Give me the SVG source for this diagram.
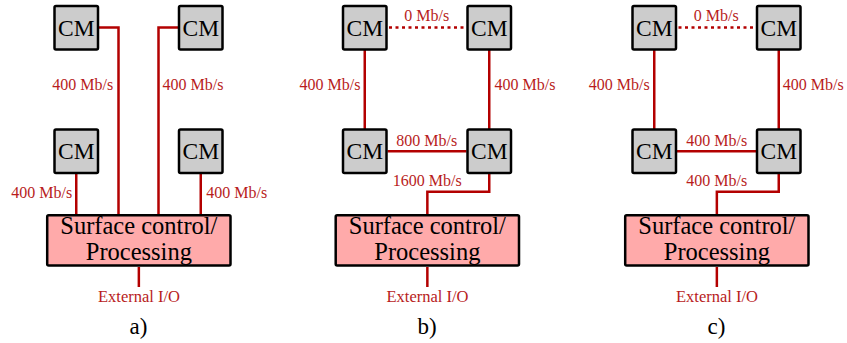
<svg xmlns="http://www.w3.org/2000/svg" width="847" height="343" viewBox="0 0 847 343">
<style>
.cm rect{fill:#cccccc;stroke:#000;stroke-width:2.5}
.sc rect{fill:#ffaaaa;stroke:#000;stroke-width:2.5}
.cm text,.sc text,.cap{fill:#000;text-anchor:middle}
.cm text{font-size:23.5px}
.sc text{font-size:24.5px}
.cap{font-size:23px}
.conn path{fill:none;stroke:#b30000;stroke-width:2.5}
.conn path.dot{stroke-dasharray:3 3.5}
.lbl{font-size:16px;fill:#b81c1c;text-anchor:middle}
.ext{font-size:16.5px}
</style>
<g id="panel-a" font-family="Liberation Serif, DejaVu Serif, serif">
  <g class="conn" id="connectors-a">
    <path d="M99,27.5 H118.5 V214"/>
    <path d="M178,27.5 H158.5 V214"/>
    <path d="M76.25,174 V214"/>
    <path d="M200.75,174 V214"/>
    <path d="M138.85,267 V287"/>
  </g>
  <g id="a-cm1" class="cm"><rect x="54.5" y="6" width="43.5" height="43.5" rx="1.5"/><text font-family="Liberation Serif, DejaVu Serif, serif" x="76.25" y="35.8">CM</text></g>
  <g id="a-cm2" class="cm"><rect x="179" y="6" width="43.5" height="43.5" rx="1.5"/><text font-family="Liberation Serif, DejaVu Serif, serif" x="200.75" y="35.8">CM</text></g>
  <g id="a-cm3" class="cm"><rect x="54.5" y="129.5" width="43.5" height="43.5" rx="1.5"/><text font-family="Liberation Serif, DejaVu Serif, serif" x="76.25" y="159.3">CM</text></g>
  <g id="a-cm4" class="cm"><rect x="179" y="129.5" width="43.5" height="43.5" rx="1.5"/><text font-family="Liberation Serif, DejaVu Serif, serif" x="200.75" y="159.3">CM</text></g>
  <g id="a-surface" class="sc"><rect x="47.2" y="215.2" width="183.3" height="50.3" rx="1.5"/><text font-family="Liberation Serif, DejaVu Serif, serif" x="138.85" y="233.8">Surface control/</text><text font-family="Liberation Serif, DejaVu Serif, serif" x="138.85" y="259.5">Processing</text></g>
  <g id="a-labels" font-family="Liberation Serif, DejaVu Serif, serif">
    <text font-family="Liberation Serif, DejaVu Serif, serif" class="lbl" x="82.7" y="90">400 Mb/s</text>
    <text font-family="Liberation Serif, DejaVu Serif, serif" class="lbl" x="193" y="90">400 Mb/s</text>
    <text font-family="Liberation Serif, DejaVu Serif, serif" class="lbl" x="41.7" y="197.5">400 Mb/s</text>
    <text font-family="Liberation Serif, DejaVu Serif, serif" class="lbl" x="236.7" y="197.5">400 Mb/s</text>
    <text font-family="Liberation Serif, DejaVu Serif, serif" class="lbl ext" x="139" y="301.5">External I/O</text>
    <text font-family="Liberation Serif, DejaVu Serif, serif" class="cap" x="138.5" y="334">a)</text>
  </g>
</g>
<g id="panel-b" transform="translate(288.5,0)" font-family="Liberation Serif, DejaVu Serif, serif">
  <g class="conn" id="connectors-b">
    <path class="dot" d="M100.5,27.5 H177"/>
    <path d="M76.25,50 V129"/>
    <path d="M200.75,50 V129"/>
    <path d="M99,151.25 H178"/>
    <path d="M200.75,174 V191.7 H138.85 V214"/>
    <path d="M138.85,267 V287"/>
  </g>
  <g id="b-cm1" class="cm"><rect x="54.5" y="6" width="43.5" height="43.5" rx="1.5"/><text font-family="Liberation Serif, DejaVu Serif, serif" x="76.25" y="35.8">CM</text></g>
  <g id="b-cm2" class="cm"><rect x="179" y="6" width="43.5" height="43.5" rx="1.5"/><text font-family="Liberation Serif, DejaVu Serif, serif" x="200.75" y="35.8">CM</text></g>
  <g id="b-cm3" class="cm"><rect x="54.5" y="129.5" width="43.5" height="43.5" rx="1.5"/><text font-family="Liberation Serif, DejaVu Serif, serif" x="76.25" y="159.3">CM</text></g>
  <g id="b-cm4" class="cm"><rect x="179" y="129.5" width="43.5" height="43.5" rx="1.5"/><text font-family="Liberation Serif, DejaVu Serif, serif" x="200.75" y="159.3">CM</text></g>
  <g id="b-surface" class="sc"><rect x="47.2" y="215.2" width="183.3" height="50.3" rx="1.5"/><text font-family="Liberation Serif, DejaVu Serif, serif" x="138.85" y="233.8">Surface control/</text><text font-family="Liberation Serif, DejaVu Serif, serif" x="138.85" y="259.5">Processing</text></g>
  <g id="b-labels">
    <text font-family="Liberation Serif, DejaVu Serif, serif" class="lbl" x="138.2" y="20.5">0 Mb/s</text>
    <text font-family="Liberation Serif, DejaVu Serif, serif" class="lbl" x="41.5" y="90">400 Mb/s</text>
    <text font-family="Liberation Serif, DejaVu Serif, serif" class="lbl" x="236.5" y="90">400 Mb/s</text>
    <text font-family="Liberation Serif, DejaVu Serif, serif" class="lbl" x="138.2" y="145.5">800 Mb/s</text>
    <text font-family="Liberation Serif, DejaVu Serif, serif" class="lbl" x="138.8" y="185.5">1600 Mb/s</text>
    <text font-family="Liberation Serif, DejaVu Serif, serif" class="lbl ext" x="139" y="301.5">External I/O</text>
    <text font-family="Liberation Serif, DejaVu Serif, serif" class="cap" x="138.5" y="334">b)</text>
  </g>
</g>
<g id="panel-c" transform="translate(578,0)" font-family="Liberation Serif, DejaVu Serif, serif">
  <g class="conn" id="connectors-c">
    <path class="dot" d="M100.5,27.5 H177"/>
    <path d="M76.25,50 V129"/>
    <path d="M200.75,50 V129"/>
    <path d="M99,151.25 H178"/>
    <path d="M200.75,174 V191.7 H138.85 V214"/>
    <path d="M138.85,267 V287"/>
  </g>
  <g id="c-cm1" class="cm"><rect x="54.5" y="6" width="43.5" height="43.5" rx="1.5"/><text font-family="Liberation Serif, DejaVu Serif, serif" x="76.25" y="35.8">CM</text></g>
  <g id="c-cm2" class="cm"><rect x="179" y="6" width="43.5" height="43.5" rx="1.5"/><text font-family="Liberation Serif, DejaVu Serif, serif" x="200.75" y="35.8">CM</text></g>
  <g id="c-cm3" class="cm"><rect x="54.5" y="129.5" width="43.5" height="43.5" rx="1.5"/><text font-family="Liberation Serif, DejaVu Serif, serif" x="76.25" y="159.3">CM</text></g>
  <g id="c-cm4" class="cm"><rect x="179" y="129.5" width="43.5" height="43.5" rx="1.5"/><text font-family="Liberation Serif, DejaVu Serif, serif" x="200.75" y="159.3">CM</text></g>
  <g id="c-surface" class="sc"><rect x="47.2" y="215.2" width="183.3" height="50.3" rx="1.5"/><text font-family="Liberation Serif, DejaVu Serif, serif" x="138.85" y="233.8">Surface control/</text><text font-family="Liberation Serif, DejaVu Serif, serif" x="138.85" y="259.5">Processing</text></g>
  <g id="c-labels">
    <text font-family="Liberation Serif, DejaVu Serif, serif" class="lbl" x="41.3" y="90">400 Mb/s</text>
    <text font-family="Liberation Serif, DejaVu Serif, serif" class="lbl" x="235.3" y="90">400 Mb/s</text>
    <text font-family="Liberation Serif, DejaVu Serif, serif" class="lbl" x="138.2" y="20.5">0 Mb/s</text>
    <text font-family="Liberation Serif, DejaVu Serif, serif" class="lbl" x="138.7" y="145.5">400 Mb/s</text>
    <text font-family="Liberation Serif, DejaVu Serif, serif" class="lbl" x="138.7" y="185.5">400 Mb/s</text>
    <text font-family="Liberation Serif, DejaVu Serif, serif" class="lbl ext" x="139" y="301.5">External I/O</text>
    <text font-family="Liberation Serif, DejaVu Serif, serif" class="cap" x="138.5" y="334">c)</text>
  </g>
</g>
</svg>
